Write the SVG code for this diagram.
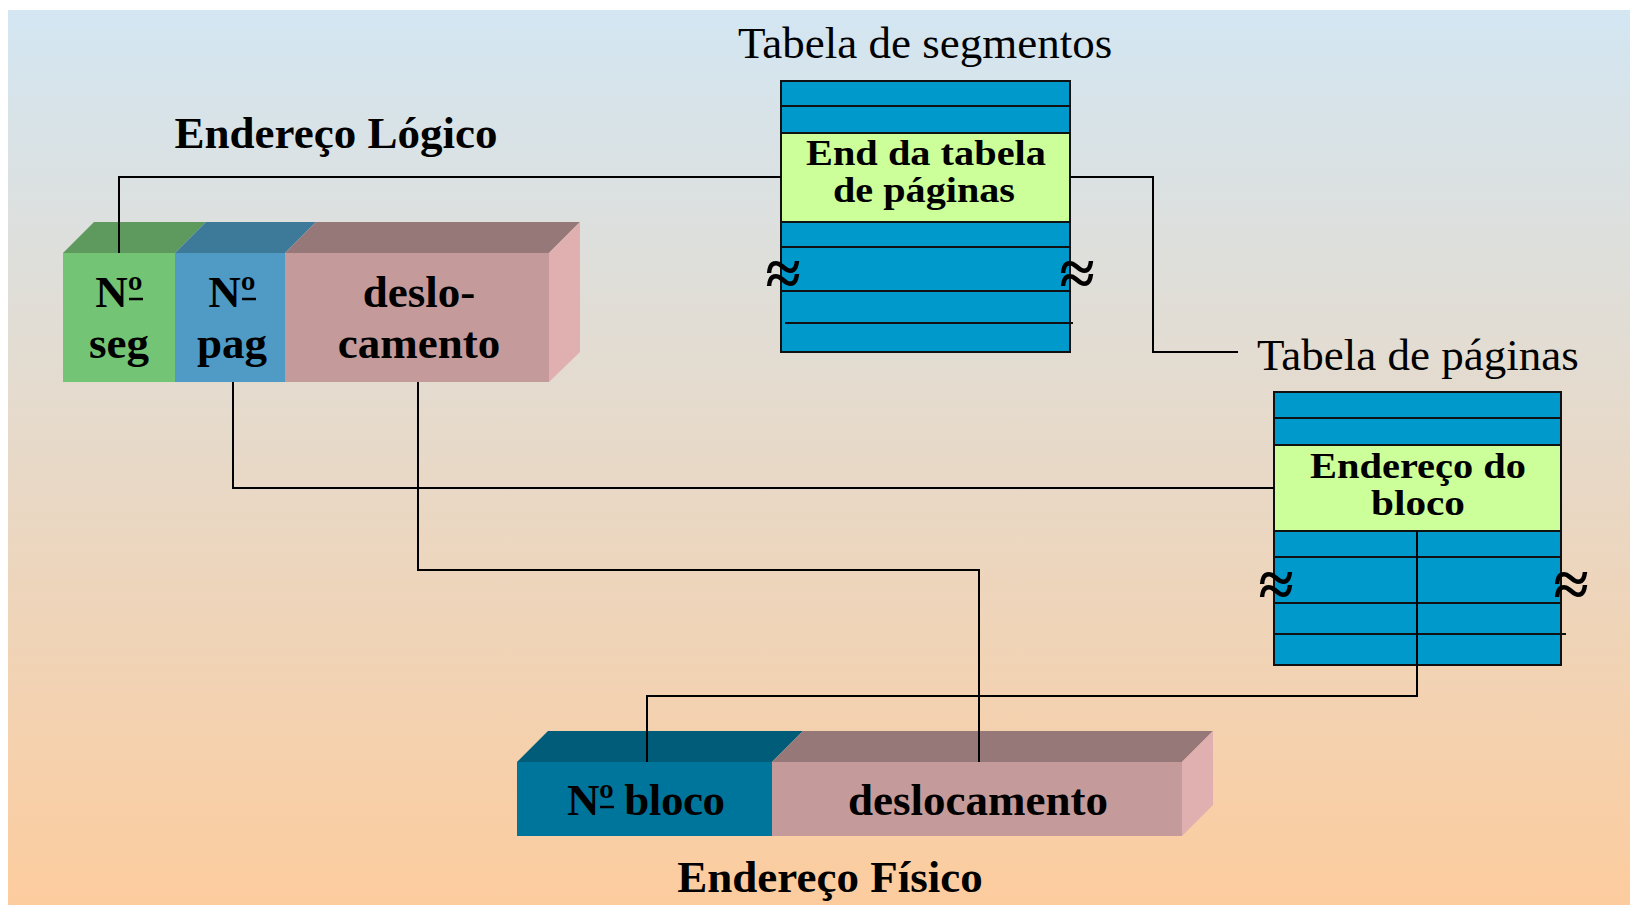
<svg xmlns="http://www.w3.org/2000/svg" width="1630" height="905" viewBox="0 0 1630 905">
<defs>
<linearGradient id="bg" x1="0" y1="0" x2="0" y2="1">
<stop offset="0" stop-color="#d3e6f2"/>
<stop offset="1" stop-color="#fccc9e"/>
</linearGradient>
</defs>
<style>
.b{font-family:"Liberation Serif","Times New Roman",serif;font-weight:bold;fill:#000;text-anchor:middle}
.r{font-family:"Liberation Serif","Times New Roman",serif;fill:#000}
.w{fill:none;stroke:#000;stroke-width:2}
.tbl{fill:#0099cc;stroke:#111;stroke-width:2}
.hl{fill:#ccff99;stroke:#111;stroke-width:2}
.rl{stroke:#111;stroke-width:2}
.ul{stroke:#000;stroke-width:2.5}
.apx{font-family:"Liberation Serif","Times New Roman",serif;font-weight:bold;font-size:64px;fill:#000;text-anchor:middle}
</style>
<rect x="0" y="0" width="1630" height="905" fill="#ffffff"/>
<rect x="8" y="10" width="1622" height="895" fill="url(#bg)"/>

<g id="logico-label"><text class="b" x="336" y="148" font-size="45">Endereço Lógico</text></g>

<g id="endereco-logico">
<polygon points="63,253 94,222 206,222 175,253" fill="#5e9a5e"/>
<polygon points="175,253 206,222 316,222 285,253" fill="#3d7a9a"/>
<polygon points="285,253 316,222 580,222 549,253" fill="#967878"/>
<polygon points="549,253 580,222 580,352 549,382" fill="#e0b0b0"/>
<rect x="63" y="253" width="112" height="129" fill="#74c476"/>
<rect x="175" y="253" width="110" height="129" fill="#4f9bc6"/>
<rect x="285" y="253" width="264" height="129" fill="#c49a9a"/>
<text class="b" x="119" y="307" font-size="45">Nº</text>
<line class="ul" x1="129" y1="299" x2="143" y2="299"/>
<text class="b" x="119" y="358" font-size="45">seg</text>
<text class="b" x="232" y="307" font-size="45">Nº</text>
<line class="ul" x1="242" y1="299" x2="256" y2="299"/>
<text class="b" x="232" y="358" font-size="45">pag</text>
<text class="b" x="419" y="307" font-size="45">deslo-</text>
<text class="b" x="419" y="358" font-size="45">camento</text>
</g>

<g id="tabela-segmentos">
<text class="r" x="738" y="58" font-size="45">Tabela de segmentos</text>
<rect class="tbl" x="781" y="81" width="289" height="271"/>
<rect class="hl" x="781" y="133" width="289" height="89"/>
<line class="rl" x1="781" y1="106" x2="1070" y2="106"/>
<line class="rl" x1="781" y1="247" x2="1070" y2="247"/>
<line class="rl" x1="781" y1="291" x2="1070" y2="291"/>
<line class="rl" x1="785" y1="323" x2="1073" y2="323"/>
<text class="b" x="926" y="165" font-size="36" textLength="240" lengthAdjust="spacingAndGlyphs">End da tabela</text>
<text class="b" x="924" y="202" font-size="36" textLength="182" lengthAdjust="spacingAndGlyphs">de páginas</text>
<text class="apx" x="783" y="295">≈</text>
<text class="apx" x="1077" y="295">≈</text>
</g>

<g id="tabela-paginas">
<text class="r" x="1257" y="370" font-size="45">Tabela de páginas</text>
<rect class="tbl" x="1274" y="392" width="287" height="273"/>
<rect class="hl" x="1274" y="445" width="287" height="86"/>
<line class="rl" x1="1274" y1="418" x2="1561" y2="418"/>
<line class="rl" x1="1274" y1="557" x2="1561" y2="557"/>
<line class="rl" x1="1274" y1="603" x2="1561" y2="603"/>
<line class="rl" x1="1274" y1="634" x2="1566" y2="634"/>
<text class="b" x="1418" y="478" font-size="36" textLength="216" lengthAdjust="spacingAndGlyphs">Endereço do</text>
<text class="b" x="1418" y="515" font-size="36" textLength="94" lengthAdjust="spacingAndGlyphs">bloco</text>
<text class="apx" x="1276" y="606">≈</text>
<text class="apx" x="1571" y="606">≈</text>
</g>

<g id="endereco-fisico">
<polygon points="517,762 548,731 803,731 772,762" fill="#005c78"/>
<polygon points="772,762 803,731 1213,731 1182,762" fill="#967878"/>
<polygon points="1182,762 1213,731 1213,805 1182,836" fill="#e0b0b0"/>
<rect x="517" y="762" width="255" height="74" fill="#00759c"/>
<rect x="772" y="762" width="410" height="74" fill="#c49a9a"/>
<text class="b" x="646" y="815" font-size="45" textLength="158" lengthAdjust="spacing">Nº bloco</text>
<line class="ul" x1="600" y1="807" x2="614" y2="807"/>
<text class="b" x="978" y="815" font-size="45">deslocamento</text>
</g>

<g id="fisico-label"><text class="b" x="830" y="892" font-size="45">Endereço Físico</text></g>

<g id="connectors">
<path class="w" d="M119,253 V177 H781"/>
<path class="w" d="M1070,177 H1153 V352 H1238"/>
<path class="w" d="M233,382 V488 H1274"/>
<path class="w" d="M418,382 V570 H979 V762"/>
<path class="w" d="M1417,531 V696 H647 V762"/>
</g>
</svg>
